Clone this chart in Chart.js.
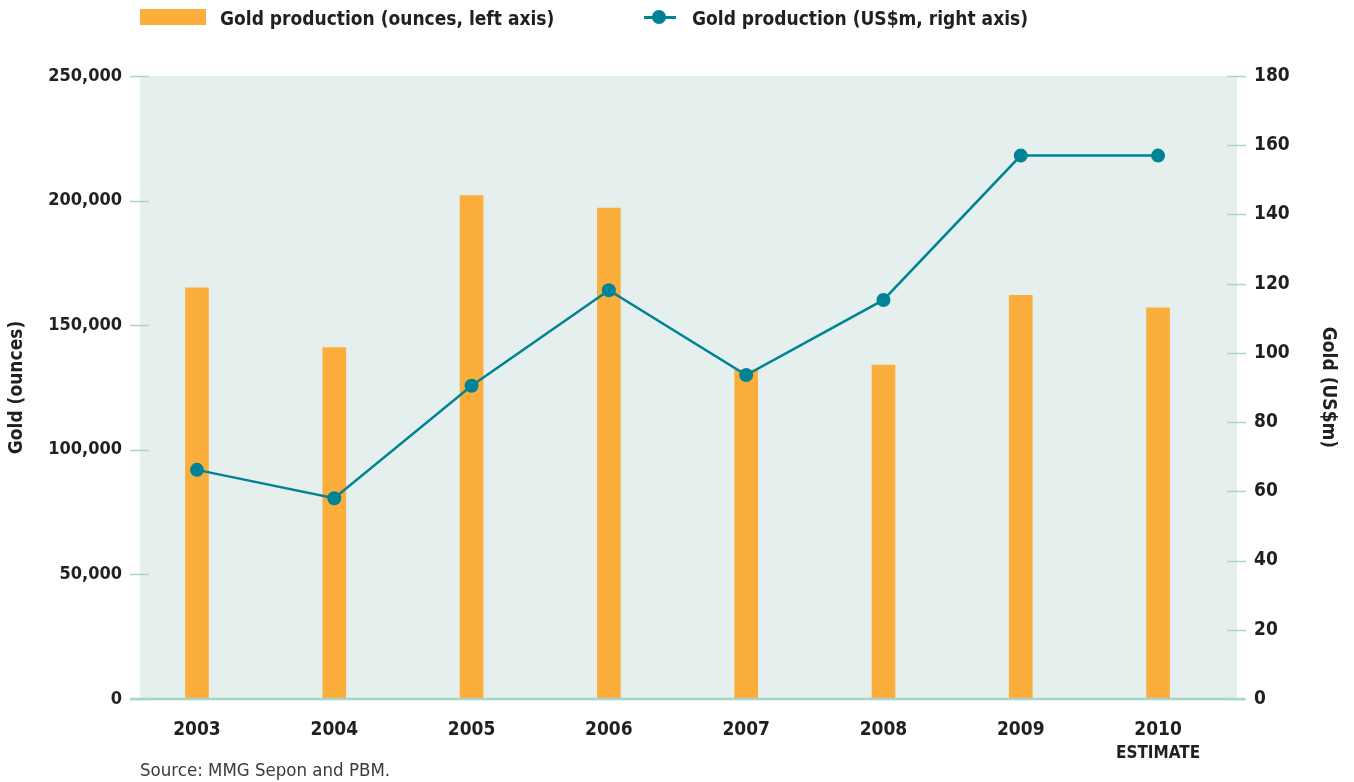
<!DOCTYPE html>
<html>
<head>
<meta charset="utf-8">
<script src="https://cdn.jsdelivr.net/npm/chart.js@4.4.1/dist/chart.umd.min.js"></script>
<style>
  body { margin: 0; background: #fff; font-family: "Liberation Sans Narrow", "DejaVu Sans Condensed", sans-serif; color: #231f20; }
  #wrap { position: relative; width: 1354px; height: 782px; }
  .leg { position: absolute; top: 6px; font-weight: bold; font-size: 19px; line-height: 24px; }
  .box { position: absolute; left: 140px; top: 9px; width: 66px; height: 16px; background: #fbae3c; }
  .ln { position: absolute; left: 644px; top: 16px; width: 32px; height: 3px; background: #008395; }
  .dot { position: absolute; left: 652px; top: 10px; width: 14px; height: 14px; border-radius: 50%; background: #008395; }
  #source { position: absolute; left: 140px; top: 759px; font-size: 18.5px; color: #3a3a3a; }
</style>
</head>
<body>
<div id="wrap">
  <canvas id="myChart"></canvas>
  <div class="box"></div>
  <div class="leg" style="left:220px">Gold production (ounces, left axis)</div>
  <div class="ln"></div><div class="dot"></div>
  <div class="leg" style="left:692px">Gold production (US$m, right axis)</div>
  <div id="source">Source: MMG Sepon and PBM.</div>
</div>
<script>
var years = ["2003", "2004", "2005", "2006", "2007", "2008", "2009", "2010"];
var ounces = [165000, 141000, 202000, 197000, 132000, 134000, 162000, 157000];
var usdm = [66.2, 58.0, 90.5, 118.1, 93.6, 115.3, 157.0, 157.0];
var ouncesTicks = [0, 50000, 100000, 150000, 200000, 250000];
var usdmTicks = [0, 20, 40, 60, 80, 100, 120, 140, 160, 180];

var font = "'Liberation Sans Narrow', 'DejaVu Sans Condensed', sans-serif";
var tickColor = "#a8d4cc";

// plot background + little tick marks that cross the edge of the plot
var decor = {
  id: "decor",
  beforeDraw: function (chart) {
    var a = chart.chartArea, ctx = chart.ctx;
    ctx.save();
    ctx.fillStyle = "#e5efed";
    ctx.fillRect(a.left, a.top, a.right - a.left, a.bottom - a.top);
    ctx.restore();
  },
  afterDatasetsDraw: function (chart) {
    var a = chart.chartArea, ctx = chart.ctx;
    var yl = chart.scales.y, yr = chart.scales.y1;
    ctx.save();
    ctx.strokeStyle = tickColor;
    ctx.lineWidth = 1.5;
    yl.ticks.forEach(function (t) {
      var p = Math.round(yl.getPixelForValue(t.value)) + 0.5;
      ctx.beginPath(); ctx.moveTo(a.left - 10, p); ctx.lineTo(a.left + 9, p); ctx.stroke();
    });
    yr.ticks.forEach(function (t) {
      var p = Math.round(yr.getPixelForValue(t.value)) + 0.5;
      ctx.beginPath(); ctx.moveTo(a.right - 10, p); ctx.lineTo(a.right + 9, p); ctx.stroke();
    });
    ctx.lineWidth = 2.5;
    ctx.beginPath(); ctx.moveTo(a.left - 10, a.bottom); ctx.lineTo(a.right + 8, a.bottom); ctx.stroke();
    // second line under the last category
    var xs = chart.scales.x;
    ctx.fillStyle = "#231f20";
    ctx.font = "bold 17px " + font;
    ctx.textAlign = "center";
    ctx.textBaseline = "middle";
    ctx.fillText("ESTIMATE", xs.getPixelForValue(years.length - 1), 754);
    ctx.restore();
  }
};

new Chart("myChart", {
  data: {
    datasets: [{
      type: "line",
      label: "Gold production (US$m, right axis)",
      data: usdm.map(function (v, i) { return { x: i, y: v }; }),
      yAxisID: "y1",
      borderColor: "#008395",
      backgroundColor: "#008395",
      borderWidth: 2.5,
      pointRadius: 7,
      pointHoverRadius: 7,
      pointBorderWidth: 0,
      order: 0
    }, {
      type: "bar",
      label: "Gold production (ounces, left axis)",
      data: ounces.map(function (v, i) { return { x: i, y: v }; }),
      yAxisID: "y",
      backgroundColor: "#fbae3c",
      barThickness: 23,
      order: 1
    }]
  },
  options: {
    responsive: true,
    maintainAspectRatio: false,
    animation: false,
    layout: { padding: { top: 76, left: 0, right: 0, bottom: 0 } },
    plugins: { legend: { display: false }, tooltip: { enabled: false } },
    scales: {
      x: {
        type: "linear",
        min: -0.415,
        max: 7.575,
        offset: false,
        grid: { display: false, drawTicks: false, offset: false },
        border: { display: false },
        afterBuildTicks: function (s) { s.ticks = years.map(function (y, i) { return { value: i }; }); },
        afterFit: function (s) { s.height = 83; },
        ticks: {
          padding: 20,
          color: "#231f20",
          font: { family: font, size: 19, weight: "bold" },
          maxRotation: 0,
          autoSkip: false,
          callback: function (v) { return years[Math.round(v)]; }
        }
      },
      y: {
        position: "left",
        min: 0,
        max: 250000,
        grid: { display: false, drawTicks: false },
        border: { display: false },
        afterBuildTicks: function (s) { s.ticks = ouncesTicks.map(function (v) { return { value: v }; }); },
        afterFit: function (s) { s.width = 140; },
        title: {
          display: true,
          text: "Gold (ounces)",
          color: "#231f20",
          padding: { top: 6 },
          font: { family: font, size: 19, weight: "bold" }
        },
        ticks: {
          padding: 18,
          color: "#231f20",
          font: { family: font, size: 18, weight: "bold" },
          callback: function (v) { return v.toLocaleString("en-US"); }
        }
      },
      y1: {
        position: "right",
        min: 0,
        max: 180,
        grid: { display: false, drawTicks: false },
        border: { display: false },
        afterBuildTicks: function (s) { s.ticks = usdmTicks.map(function (v) { return { value: v }; }); },
        afterFit: function (s) { s.width = 117; },
        title: {
          display: true,
          text: "Gold (US$m)",
          color: "#231f20",
          padding: { top: 15 },
          font: { family: font, size: 19, weight: "bold" }
        },
        ticks: {
          padding: 17,
          color: "#231f20",
          font: { family: font, size: 19, weight: "bold" }
        }
      }
    }
  },
  plugins: [decor]
});
</script>
</body>
</html>
